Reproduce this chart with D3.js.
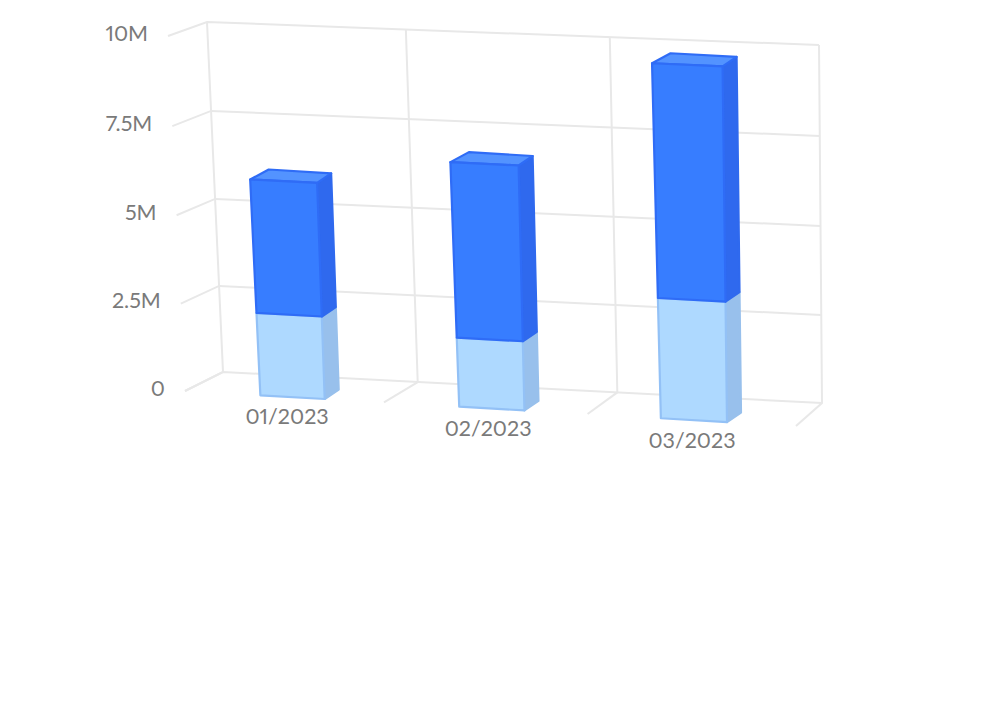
<!DOCTYPE html>
<html><head><meta charset="utf-8">
<script src="https://cdnjs.cloudflare.com/ajax/libs/d3/7.8.5/d3.min.js"></script>
<style>html,body{margin:0;padding:0;background:#fff}svg{display:block}text{font-family:Lato,sans-serif;fill:#7a7a7a;font-variant-numeric:proportional-nums;font-feature-settings:"pnum" 1}</style>
</head><body><svg id="c" width="988" height="717"></svg>
<script>
const categories = ["01/2023","02/2023","03/2023"];
const lowerValues = [2.35e6,1.96e6,3.38e6];
const upperValues = [3.76e6,4.91e6,6.47e6];
const yTicks = [0,2.5e6,5e6,7.5e6,10e6];
const yLabels = ["0","2.5M","5M","7.5M","10M"];
const seriesFill = [{front:"#aed9ff",side:"#98c0ec",top:"#bfe0ff",edge:"#93c1f6"},{front:"#377dff",side:"#2f69ee",top:"#5393ff",edge:"#2f6cf6"}];
// quads of the chart box on screen: back plane and front plane (BL,BR,TR,TL)
const backQuad = [[223,372],[822,403],[819,45],[207,22]];
const frontQuad = [[185,391],[796,426],[791,64],[168,36]];
// how far the rear corners of a bar sit from its front corners, left and right side
const barDepthLeft = [18.5,-10], barDepthRight = [14,-9.5];
// bars widen slightly toward the viewer as they rise
const taperLeft = 0.002, taperRight = 0.003;
function homography(q){
  const [[x0,y0],[x1,y1],[x2,y2],[x3,y3]]=q;
  const dx1=x1-x2,dx2=x3-x2,sx=x0-x1+x2-x3,dy1=y1-y2,dy2=y3-y2,sy=y0-y1+y2-y3;
  const d=dx1*dy2-dx2*dy1, g=(sx*dy2-dx2*sy)/d, h=(dx1*sy-sx*dy1)/d;
  const a=x1-x0+g*x1,b=x3-x0+h*x3,e=y1-y0+g*y1,f=y3-y0+h*y3;
  return (u,v)=>{const w=g*u+h*v+1;return [(a*u+b*v+x0)/w,(e*u+f*v+y0)/w];};
}
const hBack=homography(backQuad),hFront=homography(frontQuad);
function project(u,v,w){const p=hBack(u,v),q=hFront(u,v);return [p[0]+(q[0]-p[0])*w,p[1]+(q[1]-p[1])*w];}
const x=d3.scaleBand().domain(categories).range([0.0148,1.0]).paddingInner(0.675).paddingOuter(0.3375);
const xLabel=d3.scaleBand().domain(categories).range([0.006,1]);
const xGrid=d3.scaleBand().domain(categories).range([-0.003,0.997]);
const y=d3.scaleLinear().domain([0,10e6]).range([0,1]);
const svg=d3.select("#c");
const line=d3.line();
const grid=svg.append("g").attr("fill","none").attr("stroke","#e8e8e8").attr("stroke-width",2).attr("stroke-linejoin","miter");
yTicks.forEach(t=>{
  grid.append("path").attr("d",line([project(0,y(t),1),project(0,y(t),0),project(1,y(t),0)]));
});
const bounds=[0,...categories.slice(1).map(c=>xGrid(c)),1];
bounds.forEach(u=>{
  grid.append("path").attr("d",line([project(u,0,1),project(u,0,0),project(u,1,0)]));
});
const labelsY=svg.append("g").attr("text-anchor","end").attr("font-size",21.5);
yTicks.forEach((t,i)=>{const p=project(0,y(t),1);
  labelsY.append("text").attr("x",p[0]-20).attr("y",p[1]-3).attr("dy","0.35em").text(yLabels[i]);});
const bars=svg.append("g");
function poly(g,pts,fill,edge){g.append("path").attr("d",line(pts)+"Z").attr("fill",fill).attr("stroke",edge).attr("stroke-width",2.2).attr("stroke-linejoin","round");}
const rear=(p,d)=>[p[0]+d[0],p[1]+d[1]];
categories.forEach((c,i)=>{
  const u0=x(c),u1=x(c)+x.bandwidth();
  const left=v=>u0-taperLeft*v,right=v=>u1+taperRight*v;
  const layers=[[0,lowerValues[i]],[lowerValues[i],lowerValues[i]+upperValues[i]]];
  layers.forEach(([a,b],s)=>{
    const g=bars.append("g"),col=seriesFill[s],v0=y(a),v1=y(b);
    const fbl=project(left(v0),v0,1),fbr=project(right(v0),v0,1),ftr=project(right(v1),v1,1),ftl=project(left(v1),v1,1);
    poly(g,[fbr,rear(fbr,barDepthRight),rear(ftr,barDepthRight),ftr],col.side,col.side);
    if(s===1) poly(g,[ftl,ftr,rear(ftr,barDepthRight),rear(ftl,barDepthLeft)],col.top,col.edge);
    poly(g,[fbl,fbr,ftr,ftl],col.front,col.edge);
  });
});
const labelsX=svg.append("g").attr("text-anchor","middle").attr("font-size",21.5);
categories.forEach(c=>{const p=project(xLabel(c)+xLabel.bandwidth()/2,0,1);
  labelsX.append("text").attr("x",p[0]-1).attr("y",p[1]+20).attr("dy","0.35em").text(c);});
</script></body></html>
